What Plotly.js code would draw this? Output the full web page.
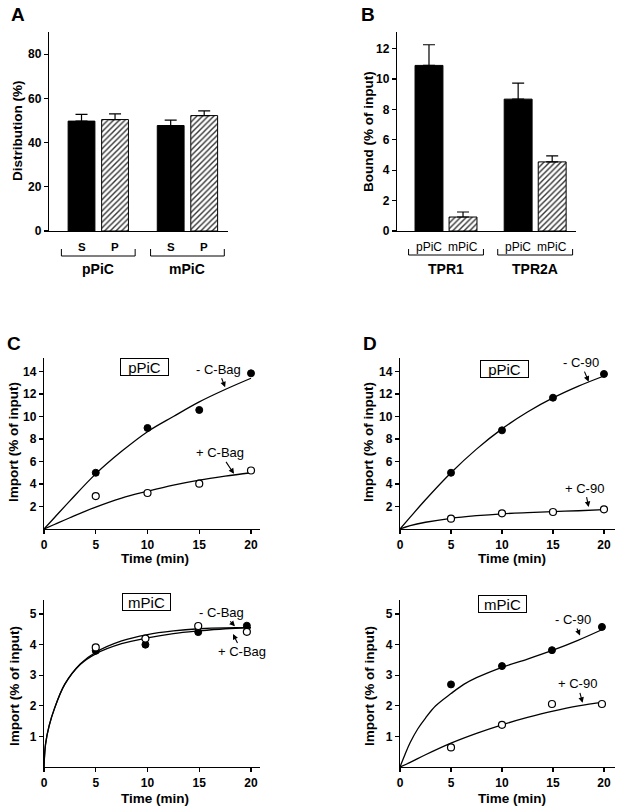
<!DOCTYPE html>
<html><head><meta charset="utf-8">
<script src="https://cdn.plot.ly/plotly-3.0.1.min.js"></script>
<style>html,body{margin:0;padding:0;background:#fff}#chart{width:624px;height:812px}</style>
</head><body><div id="chart"></div>
<script>
// ---------- Panel A ----------
const groupsA = ['pPiC', 'mPiC'];
const subsA = ['S', 'P'];
const distS = [49.7, 47.7];
const distSErr = [3.0, 2.4];
const distP = [50.4, 52.2];
const distPErr = [2.6, 2.1];

// ---------- Panel B ----------
const groupsB = ['TPR1', 'TPR2A'];
const subsB = ['pPiC', 'mPiC'];
const boundP = [10.9, 8.68];
const boundPErr = [1.36, 1.06];
const boundM = [0.92, 4.55];
const boundMErr = [0.33, 0.40];

// ---------- Panels C / D ----------
const boxC1 = 'pPiC', boxC2 = 'mPiC', boxD1 = 'pPiC', boxD2 = 'mPiC';
const seriesC = ['- C-Bag', '+ C-Bag'];
const seriesD = ['- C-90', '+ C-90'];
const timePts = [5, 10, 15, 20];
const timeC2 = [5, 9.8, 14.9, 19.6];
const timeD2 = [5, 10, 14.9, 19.8];

const c1Minus = [5.0, 8.98, 10.58, 13.84];
const c1Plus = [2.93, 3.2, 4.03, 5.2];
const c2Minus = [3.8, 4.0, 4.41, 4.62];
const c2Plus = [3.91, 4.2, 4.61, 4.42];
const d1Minus = [5.0, 8.77, 11.67, 13.78];
const d1Plus = [0.92, 1.39, 1.51, 1.75];
const d2Minus = [2.7, 3.3, 3.82, 4.58];
const d2Plus = [0.64, 1.38, 2.06, 2.06];

// fitted curves
const fitT = [0, 1, 2.5, 5, 7.5, 10, 12.5, 15, 17.5, 20];
const c1MinusFit = [0, 1.0, 2.5, 4.9, 6.9, 8.65, 10.0, 11.3, 12.4, 13.4];
const c1PlusFit = [0, 0.4, 1.0, 1.95, 2.75, 3.35, 3.9, 4.35, 4.7, 5.0];
const d1MinusFit = [0, 1.05, 2.6, 5.0, 7.1, 8.9, 10.4, 11.65, 12.7, 13.6];
const d1PlusFit = [0, 0.3, 0.6, 0.95, 1.18, 1.35, 1.46, 1.55, 1.62, 1.72];
const d2PlusFit = [0, 0.15, 0.4, 0.78, 1.1, 1.38, 1.62, 1.83, 2.0, 2.12];
const fitTD2 = [0, 0.5, 1, 1.75, 2.5, 3.5, 5, 6.25, 7.5, 10, 12.5, 15, 17.5, 20];
const d2MinusFit = [0, 0.42, 0.8, 1.25, 1.6, 2.0, 2.4, 2.7, 2.92, 3.26, 3.53, 3.82, 4.15, 4.52];
const fitTC2 = [0, 0.15, 0.5, 1, 2, 3.5, 5, 7.5, 10, 12.5, 15, 17.5, 20];
const c2MinusFit = [0, 0.75, 1.35, 1.9, 2.7, 3.35, 3.7, 4.03, 4.22, 4.36, 4.45, 4.52, 4.56];
const c2PlusFit = [0, 0.75, 1.35, 1.9, 2.7, 3.37, 3.75, 4.12, 4.33, 4.45, 4.52, 4.55, 4.55];

// ---------- helpers ----------
const F = 'Liberation Sans, Arial, Helvetica, sans-serif';
const W = 624, H = 812;
const px = v => v / W;
const py = v => 1 - v / H;
const gapA = 2.66, gapB = 2.62;

function axis(domain, range, extra) {
  return Object.assign({
    domain: domain, range: range, showline: true, linecolor: '#000', linewidth: 1.2,
    ticks: 'outside', ticklen: 4, tickwidth: 1.2, tickcolor: '#000',
    showgrid: false, zeroline: false, fixedrange: true,
    tickfont: {family: F, size: 12, weight: 'bold', color: '#000'}
  }, extra || {});
}

const solid = {color: '#000', line: {color: '#000', width: 1}};
const hatch = {color: '#fff', line: {color: '#000', width: 1},
  pattern: {shape: '/', bgcolor: '#fff', fgcolor: '#333', size: 4, solidity: 0.35}};
function err(arr) {
  return {type: 'data', symmetric: false, array: arr, arrayminus: arr.map(() => 0),
    color: '#000', thickness: 1.2, width: 6};
}

const traces = [];
// Panel A bars
traces.push({type: 'bar', x: groupsA.map((g, i) => i * gapA), y: distS, width: 0.8,
  marker: solid, error_y: err(distSErr), xaxis: 'x', yaxis: 'y', hoverinfo: 'skip'});
traces.push({type: 'bar', x: groupsA.map((g, i) => i * gapA + 1), y: distP, width: 0.8,
  marker: hatch, error_y: err(distPErr), xaxis: 'x', yaxis: 'y', hoverinfo: 'skip'});
// Panel B bars
traces.push({type: 'bar', x: groupsB.map((g, i) => i * gapB), y: boundP, width: 0.82,
  marker: solid, error_y: err(boundPErr), xaxis: 'x2', yaxis: 'y2', hoverinfo: 'skip'});
traces.push({type: 'bar', x: groupsB.map((g, i) => i * gapB + 1), y: boundM, width: 0.82,
  marker: hatch, error_y: err(boundMErr), xaxis: 'x2', yaxis: 'y2', hoverinfo: 'skip'});

function kinetic(ax, ay, tFitM, fitM, tFitP, fitP, tPts, m, p) {
  const ln = {color: '#000', width: 1.3, shape: 'spline', smoothing: 1};
  traces.push({type: 'scatter', mode: 'lines', x: tFitM, y: fitM, line: ln, xaxis: ax, yaxis: ay, hoverinfo: 'skip'});
  traces.push({type: 'scatter', mode: 'lines', x: tFitP, y: fitP, line: ln, xaxis: ax, yaxis: ay, hoverinfo: 'skip'});
  traces.push({type: 'scatter', mode: 'markers', x: tPts, y: m, xaxis: ax, yaxis: ay, cliponaxis: false,
    marker: {size: 7, color: '#000', line: {color: '#000', width: 1}}, hoverinfo: 'skip'});
  traces.push({type: 'scatter', mode: 'markers', x: tPts, y: p, xaxis: ax, yaxis: ay, cliponaxis: false,
    marker: {size: 7, color: '#fff', line: {color: '#000', width: 1.2}}, hoverinfo: 'skip'});
}
kinetic('x3', 'y3', fitT, c1MinusFit, fitT, c1PlusFit, timePts, c1Minus, c1Plus);
kinetic('x4', 'y4', fitT, d1MinusFit, fitT, d1PlusFit, timePts, d1Minus, d1Plus);
kinetic('x5', 'y5', fitTC2, c2MinusFit, fitTC2, c2PlusFit, timeC2, c2Minus, c2Plus);
kinetic('x6', 'y6', fitTD2, d2MinusFit, fitT, d2PlusFit, timeD2, d2Minus, d2Plus);

// ---------- annotations ----------
const ann = [];
const shapes = [];
function txt(x, y, text, size, bold, extra) {
  ann.push(Object.assign({x: x, y: y, xref: 'paper', yref: 'paper', text: text, showarrow: false,
    xanchor: 'center', yanchor: 'middle',
    font: {family: F, size: size, weight: bold ? 'bold' : 'normal', color: '#000'}}, extra || {}));
}
// panel letters
txt(px(17.5), py(15), 'A', 19, true);
txt(px(367.5), py(15), 'B', 19, true);
txt(px(14), py(343), 'C', 19, true);
txt(px(369.5), py(344), 'D', 19, true);
// y titles
txt(px(17), py(131), 'Distribution (%)', 13.5, true, {textangle: -90});
txt(px(368), py(132), 'Bound (% of input)', 13.5, true, {textangle: -90});
txt(px(14), py(442), 'Import (% of input)', 13.5, true, {textangle: -90});
txt(px(369), py(442), 'Import (% of input)', 13.5, true, {textangle: -90});
txt(px(14), py(686), 'Import (% of input)', 13.5, true, {textangle: -90});
txt(px(369), py(686), 'Import (% of input)', 13.5, true, {textangle: -90});
// x titles
txt(px(155), py(558), 'Time (min)', 13.5, true);
txt(px(512), py(558), 'Time (min)', 13.5, true);
txt(px(155), py(798), 'Time (min)', 13.5, true);
txt(px(512), py(798), 'Time (min)', 13.5, true);

// category labels + brackets for bar panels
function cats(xref, groups, subs, gap, subSize, subBold, grpSize, bTop, bBot) {
  groups.forEach((g, gi) => {
    const x0 = gi * gap, x1 = gi * gap + 1;
    subs.forEach((s, si) => {
      ann.push({x: gi * gap + si, y: py(247), xref: xref, yref: 'paper', text: s, showarrow: false,
        xanchor: 'center', yanchor: 'middle',
        font: {family: F, size: subSize, weight: subBold ? 'bold' : 'normal', color: '#000'}});
    });
    ann.push({x: (x0 + x1) / 2, y: py(269), xref: xref, yref: 'paper', text: g, showarrow: false,
      xanchor: 'center', yanchor: 'middle', font: {family: F, size: grpSize, weight: 'bold', color: '#000'}});
    const l = x0 - 0.6, r = x1 + 0.6;
    shapes.push({type: 'path', xref: xref, yref: 'paper',
      path: `M ${l},${py(bTop)} L ${l},${py(bBot)} L ${r},${py(bBot)} L ${r},${py(bTop)}`,
      line: {color: '#000', width: 1}});
  });
}
cats('x', groupsA, subsA, gapA, 11.5, true, 14, 249, 256);
cats('x2', groupsB, subsB, gapB, 12, false, 14, 249, 255);

// boxed labels
function box(xref, yref, x, y, text) {
  ann.push({x: x, y: y, xref: xref, yref: yref, text: text, showarrow: false,
    xanchor: 'center', yanchor: 'middle', bordercolor: '#000', borderwidth: 1, borderpad: 0,
    width: 47, height: 16, bgcolor: '#fff',
    font: {family: F, size: 15, color: '#000'}});
}
box('x3', 'y3', 9.7, 14.4, boxC1);
box('x4', 'y4', 10.2, 14.2, boxD1);
box('x5', 'y5', 9.86, 5.39, boxC2);
box('x6', 'y6', 10.05, 5.33, boxD2);

// arrow labels
function arrowLbl(xref, yref, x, y, text, axp, ayp) {
  ann.push({x: x, y: y, xref: xref, yref: yref, text: text, showarrow: true,
    ax: axp, ay: ayp, arrowhead: 2, arrowsize: 1, arrowwidth: 1.1, arrowcolor: '#000',
    standoff: 0, startstandoff: 0,
    font: {family: F, size: 13, color: '#000'}});
}
arrowLbl('x3', 'y3', 17.5, 12.6, seriesC[0], -7, -18);
arrowLbl('x3', 'y3', 18.36, 4.9, seriesC[1], -14, -21);
arrowLbl('x4', 'y4', 18.5, 13.1, seriesD[0], -8, -19);
arrowLbl('x4', 'y4', 18.5, 1.95, seriesD[1], -4, -19);
arrowLbl('x5', 'y5', 18.45, 4.6, seriesC[0], -13, -14);
arrowLbl('x5', 'y5', 18.26, 4.35, seriesC[1], 9, 18);
arrowLbl('x6', 'y6', 17.65, 4.3, seriesD[0], -7, -16);
arrowLbl('x6', 'y6', 17.9, 2.1, seriesD[1], -5, -19);

// ---------- layout ----------
const noTicksX = {ticks: '', showticklabels: false};
const layout = {
  width: W, height: H, margin: {l: 0, r: 0, t: 0, b: 0},
  paper_bgcolor: '#fff', plot_bgcolor: 'rgba(0,0,0,0)',
  showlegend: false, barmode: 'overlay', font: {family: F, color: '#000'},
  xaxis: axis([px(49), px(228)], [-0.97, 4.37], Object.assign({anchor: 'y'}, noTicksX)),
  yaxis: axis([py(231), py(32)], [0, 90], {anchor: 'x', tickvals: [0, 20, 40, 60, 80]}),
  xaxis2: axis([px(397), px(576)], [-0.94, 4.32], Object.assign({anchor: 'y2'}, noTicksX)),
  yaxis2: axis([py(231), py(32)], [0, 13.1], {anchor: 'x2', tickvals: [0, 2, 4, 6, 8, 10, 12]}),
  xaxis3: axis([px(44), px(260)], [0, 20.87], {anchor: 'y3', tickvals: [0, 5, 10, 15, 20]}),
  yaxis3: axis([py(529), py(358)], [0, 15.2], {anchor: 'x3', tickvals: [2, 4, 6, 8, 10, 12, 14]}),
  xaxis4: axis([px(400), px(615)], [0, 21.08], {anchor: 'y4', tickvals: [0, 5, 10, 15, 20]}),
  yaxis4: axis([py(529), py(358)], [0, 15.2], {anchor: 'x4', tickvals: [2, 4, 6, 8, 10, 12, 14]}),
  xaxis5: axis([px(44), px(260)], [0, 20.87], {anchor: 'y5', tickvals: [0, 5, 10, 15, 20]}),
  yaxis5: axis([py(767), py(600)], [0, 5.46], {anchor: 'x5', tickvals: [1, 2, 3, 4, 5]}),
  xaxis6: axis([px(400), px(615)], [0, 21.08], {anchor: 'y6', tickvals: [0, 5, 10, 15, 20]}),
  yaxis6: axis([py(767), py(600)], [0, 5.46], {anchor: 'x6', tickvals: [1, 2, 3, 4, 5]}),
  annotations: ann, shapes: shapes
};
Plotly.newPlot('chart', traces, layout, {staticPlot: true, displayModeBar: false});
</script></body></html>
